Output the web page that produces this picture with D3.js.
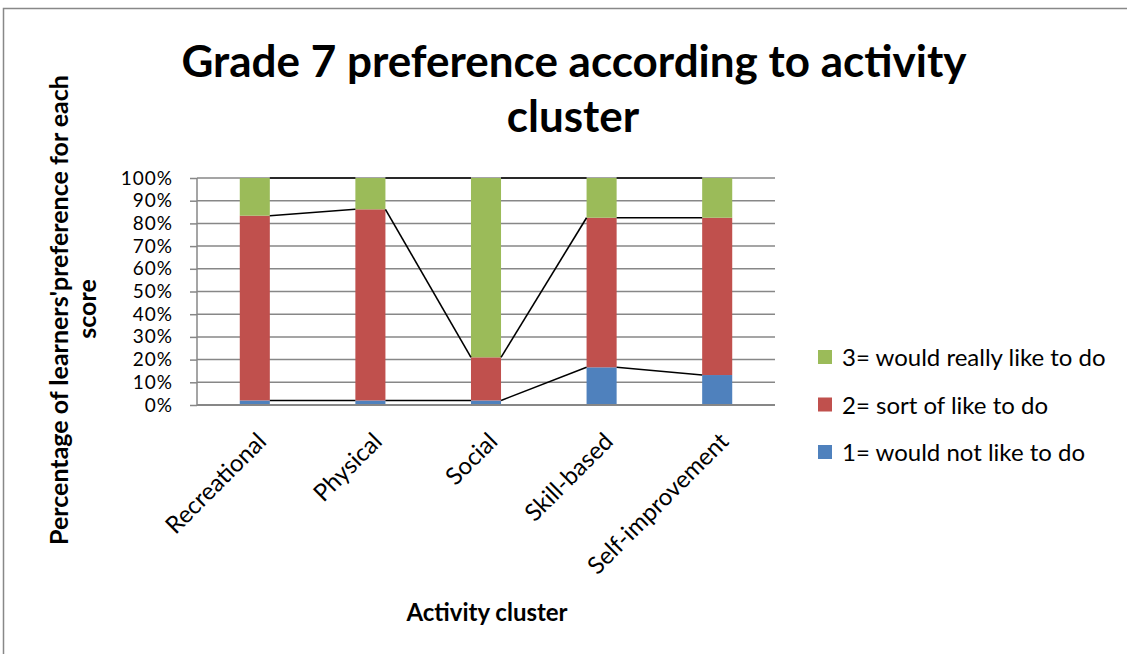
<!DOCTYPE html>
<html>
<head>
<meta charset="utf-8">
<script src="https://cdn.jsdelivr.net/npm/d3@7"></script>
<style>
  body { margin: 0; background: #fff; }
  text { font-family: Lato, "Noto Sans", sans-serif; fill: #000; }
</style>
</head>
<body>
<div id="chart"></div>
<script>
// data (percent of learners)
const categories = ["Recreational", "Physical", "Social", "Skill-based", "Self-improvement"];
const notLike = [2, 2, 2, 16.6, 13.2];
const sortOf = [81.4, 84.2, 19, 65.9, 69.3];
const reallyLike = [16.6, 13.8, 79, 17.5, 17.5];
const seriesNames = ["1= would not like to do", "2= sort of like to do", "3= would really like to do"];
const yTicks = [0, 10, 20, 30, 40, 50, 60, 70, 80, 90, 100];

const colors = ["#4F81BD", "#C0504D", "#9BBB59"];

const width = 1127, height = 654;
const plotLeft = 197, plotRight = 775, plotTop = 178, plotBottom = 405;

const svg = d3.select("#chart").append("svg")
    .attr("width", width)
    .attr("height", height);

// chart area border
svg.append("rect")
    .attr("x", 3.5).attr("y", 8.5)
    .attr("width", width + 10).attr("height", height + 10)
    .attr("fill", "#fff")
    .attr("stroke", "#888").attr("stroke-width", 1.5);

const x = d3.scaleBand()
    .domain(categories)
    .range([plotLeft, plotRight])
    .paddingInner(0.74)
    .paddingOuter(0.37);

const y = d3.scaleLinear()
    .domain([0, 100])
    .range([plotBottom, plotTop]);

// gridlines
svg.append("g").selectAll("line")
    .data(yTicks.slice(1))
    .enter().append("line")
    .attr("x1", plotLeft).attr("x2", plotRight)
    .attr("y1", d => y(d)).attr("y2", d => y(d))
    .attr("stroke", "#878787").attr("stroke-width", 1.5);

// stack
const rows = categories.map((c, i) => ({ cat: c, a: notLike[i], b: sortOf[i], c: reallyLike[i] }));
const stack = d3.stack().keys(["a", "b", "c"])(rows);

const layers = svg.append("g").selectAll("g")
    .data(stack)
    .enter().append("g")
    .attr("fill", (d, i) => colors[i]);

layers.selectAll("rect")
    .data(d => d)
    .enter().append("rect")
    .attr("x", d => x(d.data.cat))
    .attr("width", x.bandwidth())
    .attr("y", d => y(d[1]))
    .attr("height", d => y(d[0]) - y(d[1]));

// series lines between bars
stack.forEach(layer => {
    for (let i = 0; i < layer.length - 1; i++) {
        svg.append("line")
            .attr("x1", x(categories[i]) + x.bandwidth())
            .attr("y1", y(layer[i][1]))
            .attr("x2", x(categories[i + 1]))
            .attr("y2", y(layer[i + 1][1]))
            .attr("stroke", "#000").attr("stroke-width", 1.6);
    }
});

// y axis
const yAxis = svg.append("g")
    .attr("transform", "translate(" + plotLeft + ",0)")
    .call(d3.axisLeft(y).tickValues(yTicks).tickSize(7).tickPadding(17).tickFormat(d => d + "%"));
yAxis.selectAll("line").attr("stroke", "#878787").attr("stroke-width", 1.5);
yAxis.select(".domain").attr("stroke", "#878787").attr("stroke-width", 1.5).attr("d", "M0," + plotTop + "V" + plotBottom);
yAxis.selectAll("text")
    .style("font-size", "19px")
    .style("letter-spacing", "1px")
    .style("font-family", "Lato, sans-serif")
    .attr("fill", "#000");

// x axis
const xAxis = svg.append("g")
    .attr("transform", "translate(0," + plotBottom + ")")
    .call(d3.axisBottom(x).tickSize(0).tickPadding(0));
xAxis.select(".domain").attr("stroke", "#878787").attr("stroke-width", 2).attr("d", "M" + plotLeft + ",0H" + plotRight);
xAxis.selectAll("text")
    .style("font-size", "24px")
    .style("font-family", "Lato, sans-serif")
    .attr("fill", "#000")
    .attr("text-anchor", "end")
    .attr("dy", 0)
    .attr("transform", "translate(13,38) rotate(-45)");

// title
const title = svg.append("text")
    .attr("text-anchor", "middle")
    .style("font-size", "44px").style("font-weight", "bold");
title.append("tspan").attr("x", 574).attr("y", 77).text("Grade 7 preference according to activity");
title.append("tspan").attr("x", 573).attr("y", 132).text("cluster");

// y title
svg.append("text")
    .attr("transform", "translate(68,310) rotate(-90)")
    .attr("text-anchor", "middle")
    .style("font-size", "25px").style("font-weight", "bold")
    .text("Percentage of learners'preference for each");
svg.append("text")
    .attr("transform", "translate(96,309) rotate(-90)")
    .attr("text-anchor", "middle")
    .style("font-size", "25px").style("font-weight", "bold")
    .text("score");

// x title
svg.append("text")
    .attr("x", 487).attr("y", 621)
    .attr("text-anchor", "middle")
    .style("font-size", "24px").style("font-weight", "bold")
    .text("Activity cluster");

// legend, top entry is the top series
const legendOrder = [2, 1, 0];
const legend = svg.append("g").selectAll("g")
    .data(legendOrder)
    .enter().append("g")
    .attr("transform", (d, i) => "translate(818," + (350 + i * 47.5) + ")");
legend.append("rect")
    .attr("width", 14).attr("height", 14)
    .attr("fill", d => colors[d]);
legend.append("text")
    .attr("x", 24).attr("y", 16)
    .style("font-size", "24px")
    .text(d => seriesNames[d]);
</script>
</body>
</html>
